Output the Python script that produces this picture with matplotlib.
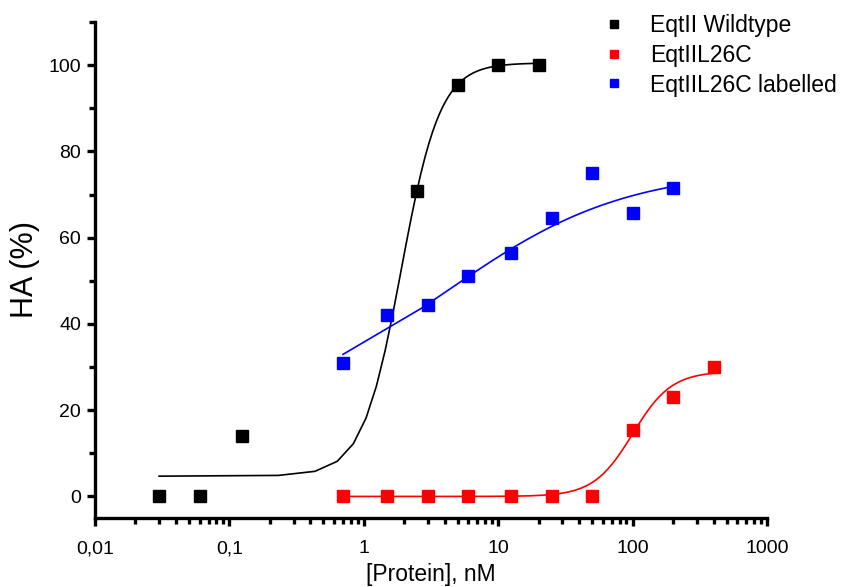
import numpy as np
import matplotlib
matplotlib.use("Agg")
import matplotlib.pyplot as plt
from matplotlib.ticker import FixedLocator, FixedFormatter, LogLocator, MultipleLocator, NullFormatter

plt.rcParams['font.family'] = ['Liberation Sans', 'DejaVu Sans']

# measured points
wt_x = [0.03, 0.06, 0.125, 2.5, 5, 10, 20]
wt_y = [0, 0, 14, 70.8, 95.3, 100, 100]

l26c_x = [0.7, 1.5, 3, 6, 12.5, 25, 50, 100, 200, 400]
l26c_y = [0, 0, 0, 0, 0, 0, 0, 15.5, 23, 30]

lab_x = [0.7, 1.5, 3, 6, 12.5, 25, 50, 100, 200]
lab_y = [31, 42, 44.5, 51, 56.5, 64.5, 75, 65.8, 71.5]

# logistic fit parameters (A1, A2, x0, p)
wt_fit = (4.7, 100.5, 1.9, 3.0)
l26c_fit = (0.0, 29.0, 100.0, 3.0)
lab_fit = (20.0, 76.0, 4.33, 0.66)

x_ticks = [0.01, 0.1, 1, 10, 100, 1000]
x_tick_labels = ['0,01', '0,1', '1', '10', '100', '1000']


def logistic(x, a1, a2, x0, p):
    return a2 + (a1 - a2) / (1 + (x / x0) ** p)


fig = plt.figure(figsize=(8.51, 5.87), dpi=100)
ax = fig.add_axes([95 / 851, 1 - 518 / 587, (767 - 95) / 851, (518 - 22) / 587])

series = [
    (wt_x, wt_y, wt_fit, 'black', 'EqtII Wildtype'),
    (l26c_x, l26c_y, l26c_fit, 'red', 'EqtIIL26C'),
    (lab_x, lab_y, lab_fit, 'blue', 'EqtIIL26C labelled'),
]
for xs, ys, fit, col, lab in series:
    xf = np.linspace(min(xs), max(xs), 100)
    ax.plot(xf, logistic(xf, *fit), color=col, lw=1.2, zorder=2)
    ax.plot(xs, ys, 's', color=col, ms=8.5, mec=col, label=lab, zorder=3)

ax.set_xscale('log')
ax.set_xlim(0.01, 1000)
ax.set_ylim(-5, 110)

ax.xaxis.set_major_locator(FixedLocator(x_ticks))
ax.xaxis.set_major_formatter(FixedFormatter(x_tick_labels))
ax.xaxis.set_minor_locator(LogLocator(base=10, subs=np.arange(2, 10), numticks=20))
ax.xaxis.set_minor_formatter(NullFormatter())
ax.yaxis.set_major_locator(FixedLocator([0, 20, 40, 60, 80, 100]))
ax.yaxis.set_minor_locator(MultipleLocator(10))

for s in ['top', 'right']:
    ax.spines[s].set_visible(False)
for s in ['left', 'bottom']:
    ax.spines[s].set_linewidth(2.4)

ax.tick_params(which='major', length=6, width=2.4, labelsize=14)
ax.tick_params(axis='x', which='major', pad=10)
ax.tick_params(axis='y', which='major', pad=4)
ax.tick_params(which='minor', length=4, width=2.4)

ax.set_xlabel('[Protein], nM', fontsize=16.5, labelpad=4)
ax.set_ylabel('HA (%)', fontsize=22, labelpad=6)

leg = ax.legend(loc='upper left', bbox_to_anchor=(590 / 851, 1.0), bbox_transform=fig.transFigure,
                frameon=False, fontsize=16.5, markerscale=0.65, handlelength=0.9,
                handletextpad=1.12, labelspacing=0.3, borderpad=0.1)

fig.savefig('out.png', dpi=100)
